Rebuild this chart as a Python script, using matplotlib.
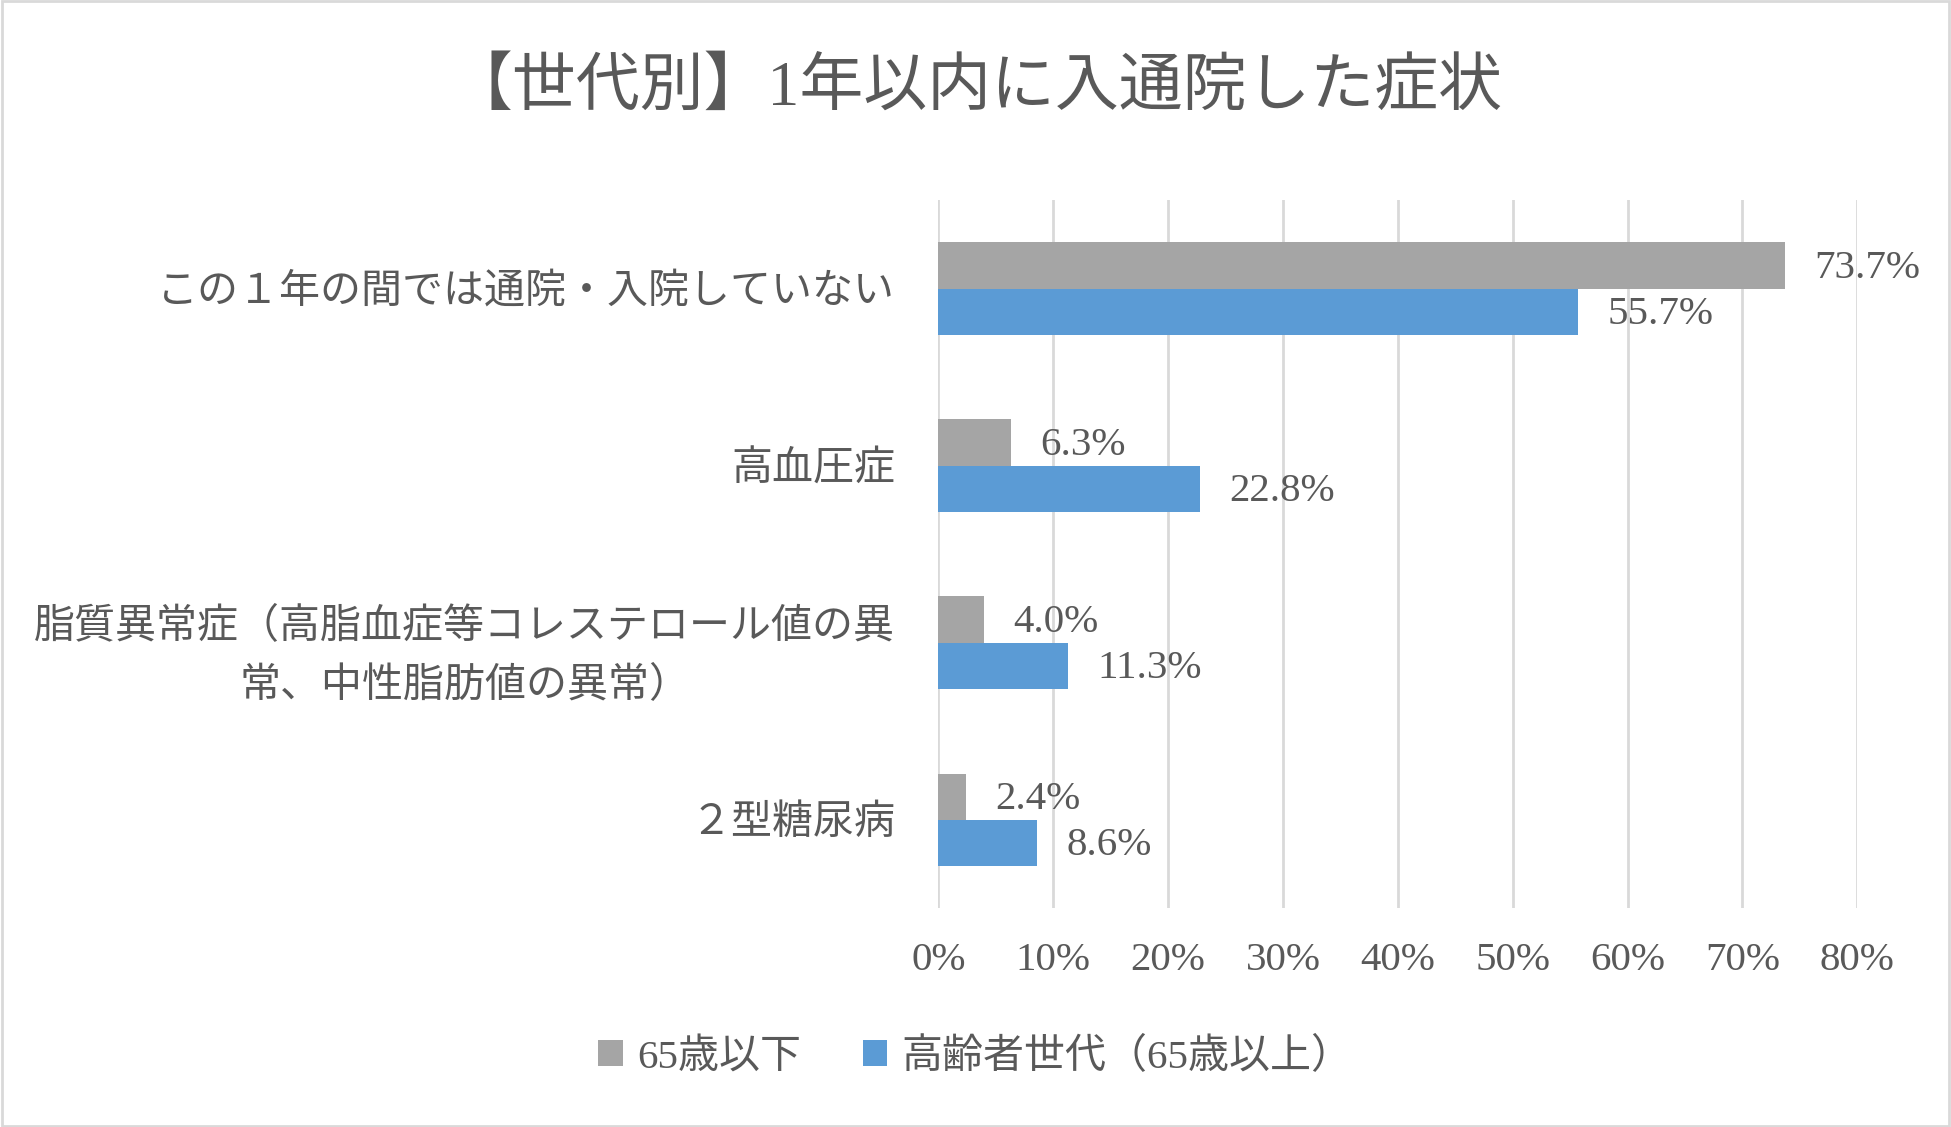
import matplotlib
matplotlib.use("Agg")
import matplotlib.pyplot as plt
import numpy as np

FONTS = ['Liberation Serif', 'Noto Sans CJK JP', 'DejaVu Sans']
plt.rcParams['font.family'] = FONTS

title = "【世代別】1年以内に入通院した症状"
categories = [
    "この１年の間では通院・入院していない",
    "高血圧症",
    "脂質異常症（高脂血症等コレステロール値の異\n常、中性脂肪値の異常）",
    "２型糖尿病",
]
series_names = ["65歳以下", "高齢者世代（65歳以上）"]
under65 = [73.7, 6.3, 4.0, 2.4]
elderly = [55.7, 22.8, 11.3, 8.6]
xticks = [0, 10, 20, 30, 40, 50, 60, 70, 80]
colors = ["#A5A5A5", "#5B9BD5"]
text_color = "#595959"
FS = 29.5

fig = plt.figure(figsize=(19.51, 11.27), dpi=100)
ax = fig.add_axes([0.481, 0.194, 0.471, 0.6285])

y = np.arange(len(categories))
h = 0.2615
b1 = ax.barh(y - h / 2, under65, height=h, color=colors[0], label=series_names[0], zorder=3)
b2 = ax.barh(y + h / 2, elderly, height=h, color=colors[1], label=series_names[1], zorder=3)

for bars, vals in ((b1, under65), (b2, elderly)):
    for bar, v in zip(bars, vals):
        ax.annotate(f"{v:.1f}%", (bar.get_width(), bar.get_y() + bar.get_height() / 2),
                    xytext=(21, -2), textcoords="offset points", ha="left", va="center",
                    fontsize=FS, color=text_color)

ax.set_xlim(0, 80)
ax.set_ylim(len(categories) - 0.5, -0.5)
ax.set_xticks(xticks)
ax.set_xticklabels([f"{t}%" for t in xticks])
ax.set_yticks(y)
ax.set_yticklabels(categories, linespacing=1.65)
ax.tick_params(axis='x', length=0, pad=24, labelsize=FS, labelcolor=text_color)
ax.tick_params(axis='y', length=0, pad=31, labelsize=FS, labelcolor=text_color)
for lbl in ax.get_yticklabels():
    lbl.set_horizontalalignment('right')
    lbl.set_multialignment('center')
for s in ax.spines.values():
    s.set_visible(False)
ax.grid(axis='x', color="#D9D9D9", linewidth=2, zorder=0)
ax.set_axisbelow(True)

fig.text(0.5, 0.921, title, ha="center", va="center", fontsize=46, color=text_color)

leg = fig.legend(handles=[b1, b2], labels=series_names, loc="center", bbox_to_anchor=(0.5, 0.062),
                 ncol=2, frameon=False, fontsize=FS, handlelength=0.6, handleheight=0.6,
                 columnspacing=1.5, handletextpad=0.35)
for t in leg.get_texts():
    t.set_color(text_color)

border = plt.Rectangle((0.001, 0.001), 0.998, 0.998, transform=fig.transFigure,
                       fill=False, edgecolor="#D9D9D9", linewidth=2)
fig.patches.append(border)

fig.savefig("out.png", dpi=100, facecolor="white")
